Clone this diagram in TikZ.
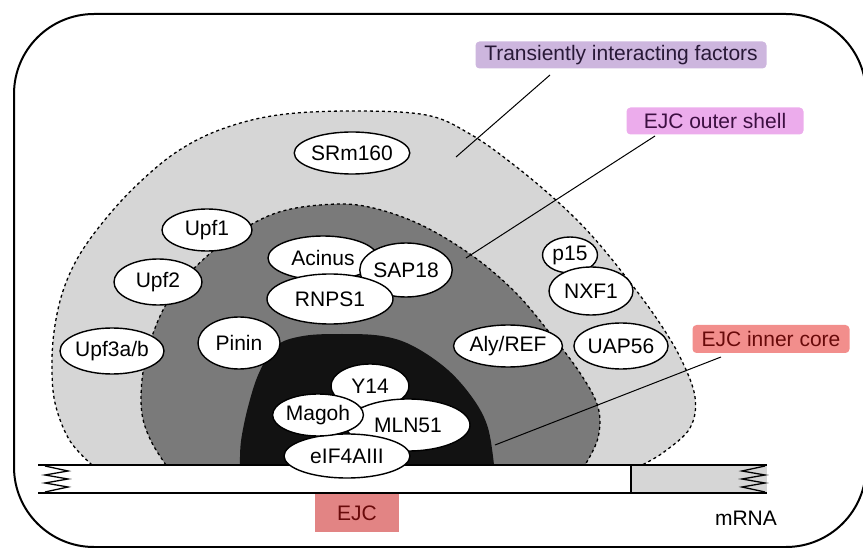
\documentclass[tikz,border=0pt]{standalone}
\usepackage{fontspec}
\setmainfont{Liberation Sans}
\usetikzlibrary{shapes.geometric,positioning}

\definecolor{lightshell}{RGB}{214,214,214}
\definecolor{darkshell}{RGB}{122,122,122}
\definecolor{coreblack}{RGB}{18,18,18}
\definecolor{tifbox}{RGB}{205,182,222}
\definecolor{tiftext}{RGB}{40,25,55}
\definecolor{outerbox}{RGB}{236,172,236}
\definecolor{outertext}{RGB}{60,15,65}
\definecolor{innerbox}{RGB}{242,142,140}
\definecolor{innertext}{RGB}{105,10,10}
\definecolor{ejcbox}{RGB}{226,132,132}

\begin{document}
\begin{tikzpicture}[x=1pt,y=-1pt]
\tikzstyle{every node}=[font=\fontsize{21}{25}\selectfont]
\tikzstyle{prot}=[ellipse, draw, line width=1.4pt, fill=white, inner sep=0pt]
\tikzstyle{tag}=[rounded corners=4pt, inner sep=0pt, minimum height=27pt]
\tikzstyle{leader}=[line width=1pt]
\tikzstyle{shell}=[dash pattern=on 3pt off 3pt, line width=1.3pt]

\useasboundingbox (0,0) rectangle (863,548);
\draw[line width=2pt, rounded corners=80pt] (14,14) rectangle (866,547);

% shells
\filldraw[fill=lightshell, shell] plot[smooth, tension=0.6] coordinates {(92,465) (70,441) (56,407)
  (52,373) (54,332) (63,291) (80,254) (108,216) (140,182) (178,151) (222,129) (278,115) (351,111)
  (426,115) (470,134) (514,165) (558,202) (593,237) (629,281) (659,322) (681,359) (695,397)
  (690,428) (664,452) (642,465)};
\filldraw[fill=darkshell, shell] plot[smooth, tension=0.6] coordinates {(166,465) (151,441) (142,414)
  (142,380) (149,346) (162,312) (180,284) (206,257) (237,233) (276,213) (320,205) (364,206)
  (417,223) (470,254) (514,291) (549,332) (580,373) (598,407) (598,438) (585,465)};
\fill[coreblack] plot[smooth, tension=0.6] coordinates {(240,465) (241,441) (248,407) (259,373)
  (276,346) (303,336) (342,334) (382,336) (413,346) (448,370) (474,400) (488,428) (494,465)};

% mRNA
\fill[white] (38,465) rectangle (631,493);
\fill[lightshell] (631,465) rectangle (767,493);
\draw[line width=1.3pt] (38,465) -- (767,465) (38,493) -- (767,493) (631,465) -- (631,493);
\draw[line width=1.3pt] (45,466) -- (68,471) -- (45,475) -- (68,479) -- (45,483) -- (68,487) -- (45,492);
\draw[line width=1.3pt] (765,466) -- (742,471) -- (765,475) -- (742,479) -- (765,483) -- (742,487) -- (765,492);

% transiently interacting
\node[prot, minimum width=112pt, minimum height=42pt] (srm) at (352,153) {SRm160};
\node[prot, minimum width=90pt, minimum height=42pt] (upf1) at (207,230) {Upf1};
\node[prot, minimum width=88pt, minimum height=46pt] (upf2) at (158,282) {Upf2};
\node[prot, minimum width=91pt, minimum height=46pt] (upf3) at (112,351) {Upf3a/b};
\node[prot, minimum width=55pt, minimum height=36pt] (p15) at (570,255) {p15};
\node[prot, minimum width=84pt, minimum height=48pt] (nxf1) at (591,291) {NXF1};
\node[prot, minimum width=80pt, minimum height=46pt] (uap) at (621,346) {UAP56};

% outer shell
\node[prot, minimum width=110pt, minimum height=44pt] (acinus) at (323,258) {Acinus};
\node[prot, minimum width=78pt, minimum height=54pt] (sap) at (406,270) {SAP18};
\node[prot, minimum width=126pt, minimum height=50pt] (rnps) at (330,299) {RNPS1};
\node[prot, minimum width=82pt, minimum height=52pt] (pinin) at (239,343) {Pinin};
\node[prot, minimum width=88pt, minimum height=42pt] (aly) at (508,346) {Aly/REF};

% inner core
\node[prot, minimum width=78pt, minimum height=44pt] (y14) at (370,386) {Y14};
\node[prot, minimum width=124pt, minimum height=52pt] (mln) at (408,425) {MLN51};
\node[prot, minimum width=126pt, minimum height=44pt] (eif) at (347,456) {eIF4AIII};
\node[prot, minimum width=76pt, minimum height=42pt] (magoh) at (318,415) {Magoh};

% labels
\node[tag, fill=tifbox, text=tiftext, minimum width=291pt] (tif) at (621,55) {Transiently interacting factors};
\node[tag, fill=outerbox, text=outertext, minimum width=177pt] (outer) at (715,121) {EJC outer shell};
\node[tag, fill=innerbox, text=innertext, minimum width=157pt, minimum height=28pt] (inner) at (771,339) {EJC inner core};
\node[fill=ejcbox, text=innertext, inner sep=0pt, minimum width=84pt, minimum height=38pt] (ejc) at (357,513) {EJC};
\node (mrna) at (746,518) {mRNA};

\coordinate (tifstart) at (550,75);
\coordinate (tifend) at (456,157);
\coordinate (outerstart) at (655,136);
\coordinate (outerend) at (466,258);
\coordinate (innerstart) at (721,357);
\coordinate (innerend) at (495,445);
\draw[leader] (tifstart) -- (tifend);
\draw[leader] (outerstart) -- (outerend);
\draw[leader] (innerstart) -- (innerend);
\end{tikzpicture}
\end{document}
